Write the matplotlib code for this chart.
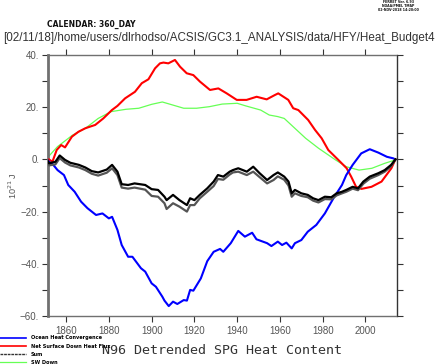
import matplotlib
matplotlib.use("Agg")
import matplotlib.pyplot as plt
from matplotlib.lines import Line2D
from matplotlib.ticker import MultipleLocator, FixedLocator, FuncFormatter

# ---------------- data ----------------
red_years = [1851, 1852, 1853.6, 1855.6, 1857.7, 1859.5, 1862.7, 1865.8, 1868.9, 1871, 1873.6,
             1877.4, 1881.4, 1884, 1887.6, 1892.2, 1895.4, 1898.5, 1901.6, 1903.9, 1905.5,
             1907.8, 1910.9, 1913.3, 1916.4, 1919.5, 1922.6, 1927.3, 1931.2, 1935.1, 1939.8,
             1944.4, 1949.1, 1953.8, 1957.7, 1959.2, 1963.9, 1966.2, 1968.6, 1973.2, 1976.4,
             1979.5, 1982.6, 1987.3, 1991.2, 1993.3, 1995.6, 1998.1, 2002.8, 2007.5, 2012.1, 2014]
red_vals = [0, 0, -0.9, 3.6, 5.5, 4.6, 8.7, 10.6, 11.9, 12.5, 13.2,
            15.7, 18.9, 20.5, 23.4, 25.9, 29.2, 30.7, 34.9, 36.8, 37.1,
            36.8, 38.1, 35.5, 33.0, 32.3, 29.8, 26.6, 27.2, 25.3, 22.8,
            22.8, 24.0, 23.0, 24.7, 25.3, 22.8, 19.6, 18.9, 15.1, 11.3,
            8.1, 3.6, -0.2, -3.4, -6.6, -10.5, -11.3, -10.5, -8.5, -3.4, 0]

green_years = [1851, 1856, 1863, 1869, 1875, 1881, 1888, 1894, 1900, 1905, 1910, 1915, 1921,
               1927, 1933, 1940, 1944, 1951, 1955, 1959, 1962, 1967, 1972, 1978, 1986, 1991,
               1997, 2003, 2009, 2014]
green_vals = [0.4, 4.9, 9.3, 11.9, 15.7, 18.3, 19.2, 19.6, 21.1, 22.0, 20.8, 19.6, 19.6,
              20.2, 21.2, 21.5, 20.5, 18.9, 17.0, 16.4, 15.7, 11.9, 8.1, 4.3, -0.2, -2.8,
              -4.1, -3.4, -1.5, -0.2]

blue_years = [1851, 1852, 1854, 1856, 1859, 1861, 1864, 1867, 1870, 1874, 1877, 1880, 1881.5,
              1884, 1886, 1889, 1891, 1895, 1897, 1900, 1902, 1905, 1906, 1908, 1910, 1912,
              1915, 1916.5, 1918, 1919.5, 1923, 1926, 1929, 1932, 1933.5, 1937, 1940.5, 1943.6,
              1947, 1949, 1954, 1956, 1959, 1961, 1963, 1965.5, 1967, 1970, 1973, 1977, 1981,
              1985, 1989, 1991, 1994, 1998, 2002, 2006, 2010, 2013, 2014]
blue_vals = [0, -0.9, -2.1, -4.1, -6.0, -9.8, -12.4, -16.2, -18.7, -21.3, -20.7, -22.6, -22.0,
             -27.0, -32.8, -37.3, -37.3, -41.7, -43.0, -47.5, -48.8, -52.6, -54.1, -56.2, -54.5,
             -55.4, -53.9, -54.1, -50.0, -50.3, -45.6, -39.0, -35.4, -34.3, -35.4, -32.1, -27.4,
             -29.6, -28.1, -30.6, -32.1, -33.2, -31.5, -32.8, -31.9, -34.1, -32.1, -30.9, -27.7,
             -25.1, -20.7, -14.9, -9.8, -6.0, -2.1, 2.3, 3.9, 2.6, 1.0, 0.4, 0]

sum_years = [1851, 1852, 1855, 1857, 1859.5, 1862, 1866, 1869, 1872, 1875, 1879, 1881.5, 1884,
             1886, 1889, 1892, 1897, 1900, 1903, 1906, 1907, 1910, 1913, 1916.5, 1918, 1920,
             1922.5, 1926, 1929, 1931, 1933.5, 1936.5, 1938, 1940.5, 1944.5, 1947.5, 1950.5,
             1954, 1957, 1959, 1962, 1964, 1965.5, 1967, 1970, 1973, 1975.5, 1978, 1981, 1984,
             1986.5, 1989, 1991, 1994, 1996.5, 1999, 2002, 2006, 2009, 2012, 2014]
sum_vals = [0, -1.5, -0.9, 1.5, -0.2, -1.3, -2.1, -3.1, -4.5, -5.0, -3.9, -2.1, -4.7,
            -9.5, -9.8, -9.2, -9.8, -11.4, -11.7, -14.3, -15.6, -13.6, -15.6, -17.5, -14.9, -15.6,
            -13.6, -11.1, -8.5, -6.0, -6.6, -4.7, -4.1, -3.4, -4.7, -2.8, -5.3,
            -7.9, -6.0, -5.0, -6.6, -8.5, -13.0, -11.7, -13.0, -13.6, -14.9, -15.6, -14.3, -14.5,
            -13.0, -12.4, -11.7, -10.5, -11.1, -8.5, -6.6, -5.3, -4.1, -2.1, 0]
total_vals = [0, -2.3, -1.9, 0.5, -1.2, -2.3, -3.1, -4.1, -5.5, -6.2, -5.1, -3.4, -6.0,
              -10.8, -11.2, -10.8, -11.6, -14.0, -14.3, -16.8, -19.0, -16.8, -18.1, -20.0, -17.5, -17.5,
              -14.9, -12.4, -10.2, -7.5, -7.8, -5.8, -5.0, -4.7, -6.0, -4.7, -6.8,
              -9.2, -7.9, -6.5, -7.8, -10.0, -14.3, -13.0, -14.0, -14.5, -15.8, -16.5, -15.2, -15.3,
              -13.8, -13.0, -12.4, -11.2, -11.8, -9.3, -7.4, -6.0, -4.7, -2.6, 0]

legend_labels = ["Ocean Heat Convergence", "Net Surface Down Heat Flux", "Sum", "SW Down"]
x_ticks = [1860, 1880, 1900, 1920, 1940, 1960, 1980, 2000]
y_label_ticks = [40, 20, 0, -20, -40, -60]

# ---------------- figure ----------------
fig = plt.figure(figsize=(4.36, 3.64), dpi=100)
ax = fig.add_axes([47.5 / 436, 1 - 316 / 364, (396.5 - 47.5) / 436, (316 - 55) / 364])

c_blue, c_red, c_green = "#0000ff", "#ff0000", "#66ff55"
ax.plot(green_years, green_vals, color=c_green, lw=0.9, zorder=2)
ax.plot(red_years, red_vals, color=c_red, lw=1.5, zorder=3)
ax.plot(blue_years, blue_vals, color=c_blue, lw=1.5, zorder=3)
ax.plot(sum_years, total_vals, color="#555555", lw=1.6, zorder=4)
ax.plot(sum_years, sum_vals, color="#000000", lw=1.6, zorder=5)

ax.set_xlim(1851.3, 2014.5)
ax.set_ylim(-60, 40)
ax.xaxis.set_major_locator(FixedLocator(x_ticks))
ax.yaxis.set_major_locator(FixedLocator(y_label_ticks))
ax.yaxis.set_minor_locator(MultipleLocator(10))
ax.yaxis.set_major_formatter(FuncFormatter(lambda v, p: f"{v:.0f}.".replace("-", "\u2212")))

gray = "#707070"
for s in ax.spines.values():
    s.set_color(gray)
    s.set_linewidth(1.0)
ax.spines["left"].set_linewidth(2.0)
ax.spines["right"].set_color("#333333")

ax.tick_params(axis="both", which="both", direction="out", colors="#333333",
               top=True, right=True, labelsize=7, length=4.5, width=0.8,
               labelcolor="#555555")
ax.tick_params(axis="x", pad=3)
ax.tick_params(axis="y", pad=1.5)
for lab in ax.get_xticklabels() + ax.get_yticklabels():
    lab.set_family("Liberation Sans")

ax.set_ylabel("10$^{21}$ J", fontsize=6.5, color="#555555", family="Liberation Sans",
              labelpad=1)

# texts
fig.text(47 / 436, 1 - 24 / 364, "CALENDAR: 360_DAY", fontsize=5.5, fontweight="bold",
         family="DejaVu Sans", va="center", ha="left", color="#111111")
fig.text(3 / 436, 1 - 38.5 / 364,
         "[02/11/18]/home/users/dlrhodso/ACSIS/GC3.1_ANALYSIS/data/HFY/Heat_Budget4",
         fontsize=8.35, family="Liberation Sans", va="center", ha="left", color="#333333")
fig.text(398 / 436, 1 - 6 / 364, "FERRET Ver. 6.93\nNOAA/PMEL TMAP\n02-NOV-2018 14:20:00",
         fontsize=2.3, fontweight="bold", family="DejaVu Sans", va="center", ha="center",
         linespacing=1.0, color="#111111")
fig.text(222 / 436, 1 - 350 / 364, "N96 Detrended SPG Heat Content", fontsize=9.6,
         family="DejaVu Sans Mono", va="center", ha="center", color="#333333")

handles = [Line2D([], [], color=c_blue, lw=1.2),
           Line2D([], [], color=c_red, lw=1.2),
           Line2D([], [], color="#333333", lw=1.0, ls=(0, (2, 0.6))),
           Line2D([], [], color=c_green, lw=0.9)]
leg = fig.legend(handles, legend_labels, loc="upper left", bbox_to_anchor=(0, 1 - 335.5 / 364),
                 frameon=False, borderpad=0, borderaxespad=0, handlelength=5.2,
                 handletextpad=0.9, labelspacing=0.6,
                 prop={"family": "DejaVu Sans", "weight": "bold", "size": 3.6})

fig.savefig("out.png", dpi=100)
